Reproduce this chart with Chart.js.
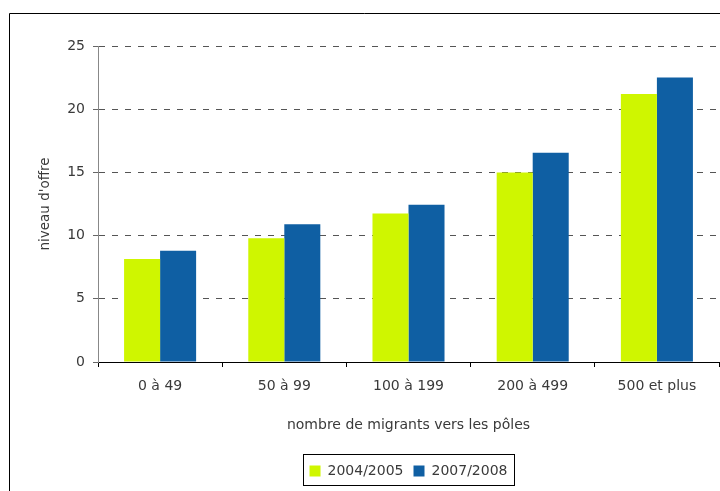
<!DOCTYPE html>
<html>
<head>
<meta charset="utf-8">
<script src="https://cdn.jsdelivr.net/npm/chart.js@4/dist/chart.umd.min.js"></script>
<style>
  html, body { margin: 0; padding: 0; background: #fff; }
  #wrap { width: 720px; height: 491px; }
</style>
</head>
<body>
<div id="wrap"><canvas id="offre" width="720" height="491"></canvas></div>
<script>
// tranches du nombre de migrants
const categories = ['0 à 49', '50 à 99', '100 à 199', '200 à 499', '500 et plus'];
const serie2004 = [8.15, 9.8, 11.75, 15.0, 21.2];
const serie2007 = [8.8, 10.9, 12.45, 16.55, 22.5];
const seriesLabels = ['2004/2005', '2007/2008'];
const yTicks = [0, 5, 10, 15, 20, 25];

const textColor = '#3a3a3a';
const fontFamily = "'DejaVu Sans', sans-serif";

// cadre extérieur + bordure de la légende
const framePlugin = {
  id: 'frame',
  afterDraw(chart) {
    const ctx = chart.ctx;
    ctx.save();
    ctx.strokeStyle = '#000';
    ctx.lineWidth = 1;
    ctx.beginPath();
    ctx.moveTo(9.5, 491);
    ctx.lineTo(9.5, 13.5);
    ctx.lineTo(720, 13.5);
    ctx.stroke();

    const boxes = chart.legend.legendHitBoxes;
    if (boxes && boxes.length) {
      const left = Math.min(...boxes.map(b => b.left)) - 7;
      const right = Math.max(...boxes.map(b => b.left + b.width)) + 6;
      const top = Math.min(...boxes.map(b => b.top)) - 10;
      const bottom = Math.max(...boxes.map(b => b.top + b.height)) + 7;
      ctx.strokeRect(Math.round(left) + 0.5, Math.round(top) + 0.5,
        Math.round(right - left), Math.round(bottom - top));
    }
    ctx.restore();
  }
};

new Chart(document.getElementById('offre'), {
  type: 'bar',
  data: {
    labels: categories,
    datasets: [
      { label: seriesLabels[0], data: serie2004, backgroundColor: '#cff600' },
      { label: seriesLabels[1], data: serie2007, backgroundColor: '#0f5fa3' }
    ]
  },
  options: {
    responsive: false,
    animation: false,
    categoryPercentage: 0.58,
    barPercentage: 1.0,
    layout: { padding: { left: 37, top: 46, right: 1, bottom: 3 } },
    plugins: {
      tooltip: { enabled: false },
      legend: {
        position: 'bottom',
        fullSize: false,
        labels: {
          color: textColor,
          font: { family: fontFamily, size: 14 },
          boxWidth: 11,
          boxHeight: 11,
          padding: 10
        }
      }
    },
    scales: {
      x: {
        afterFit(scale) { scale.height = 92; },
        border: { color: '#000', width: 1 },
        grid: { display: true, drawOnChartArea: false, tickLength: 5, color: '#000' },
        ticks: { color: textColor, font: { family: fontFamily, size: 14 }, padding: 11 },
        title: {
          display: true,
          text: 'nombre de migrants vers les pôles',
          color: textColor,
          font: { family: fontFamily, size: 14 },
          padding: { top: 4, bottom: 20 }
        }
      },
      y: {
        min: 0,
        max: 25,
        afterFit(scale) { scale.width = 61; },
        afterBuildTicks(scale) { scale.ticks = yTicks.map(v => ({ value: v })); },
        border: { color: '#888', width: 1, dash: [6, 7] },
        grid: { color: '#555', tickLength: 5, tickColor: '#666', tickBorderDash: [] },
        ticks: { color: textColor, font: { family: fontFamily, size: 14 }, padding: 8 },
        title: {
          display: true,
          text: "niveau d'offre",
          color: textColor,
          font: { family: fontFamily, size: 13.5 },
          padding: { top: 0, bottom: 4 }
        }
      }
    }
  },
  plugins: [framePlugin]
});
</script>
</body>
</html>
